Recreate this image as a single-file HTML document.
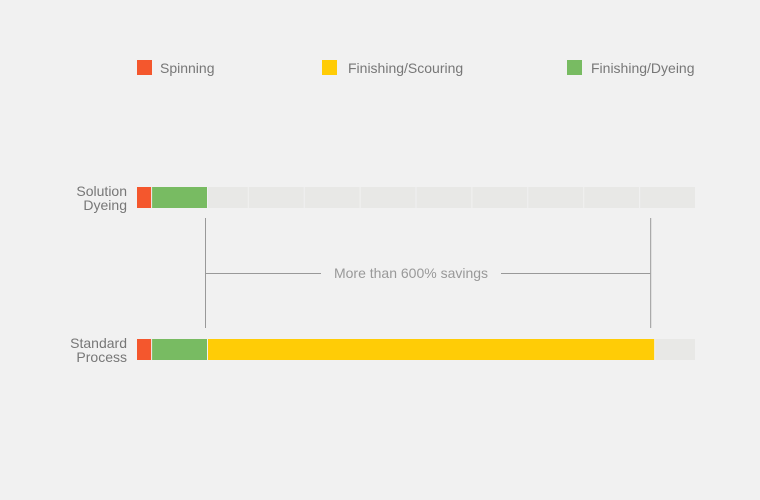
<!DOCTYPE html>
<html><head><meta charset="utf-8"><style>
body{margin:0;background:#f1f1f1;font-family:"Liberation Sans",sans-serif;}
svg{display:block}
text{font-family:"Liberation Sans",sans-serif;}
</style></head><body>
<svg id="chart" width="760" height="500">
<rect width="760" height="500" fill="#f1f1f1"/>
</svg>
<script>
const categories=["Solution Dyeing","Standard Process"];
const seriesNames=["Spinning","Finishing/Scouring","Finishing/Dyeing"];
const spinning=[0.27,0.27];
const dyeing=[1.0,1.0];
const scouring=[0,8.0];
const maxVal=10;
const annotation="More than 600% savings";
const colors={"Spinning":"#f4572d","Finishing/Scouring":"#ffcc06","Finishing/Dyeing":"#78bb62"};
const svg=document.getElementById('chart');
const NS="http://www.w3.org/2000/svg";
const x0=137,x1=696;
const xs=v=>x0+v/maxVal*(x1-x0);
const rowY=[187,339],bh=21;
function mk(t,a,p){const e=document.createElementNS(NS,t);for(const k in a)e.setAttribute(k,a[k]);(p||svg).appendChild(e);return e;}
// legend
const legX=[137,322,567];
seriesNames.forEach((n,i)=>{
  const g=mk('g',{});
  
  
  mk('rect',{x:legX[i],y:60,width:15,height:15,fill:colors[n]},g);
  const t=mk('text',{x:legX[i]+(i==0?23:i==1?26:24),y:73,'font-size':14,fill:'#777'},g);t.textContent=n;
});
categories.forEach((c,i)=>{
  const y=rowY[i];
  const g=mk('g',{});
  
  
  const parts=c.split(' ');
  parts.forEach((p,j)=>{const t=mk('text',{x:127,y:y+9+j*14,'font-size':14,fill:'#777','text-anchor':'end'},g);t.textContent=p;});
  let acc=0;
  const segs=[["Spinning",spinning[i]],["Finishing/Dyeing",dyeing[i]],["Finishing/Scouring",scouring[i]]];
  segs.forEach(([n,v])=>{
    if(v<=0)return;
    const a=xs(acc),b=xs(acc+v);
    const r=mk('rect',{x:a,y:y,width:Math.max(0,b-a-1),height:bh,fill:colors[n]},g);
    
    
    acc+=v;
  });
  // background cells
  let s=xs(acc);
  let cell=Math.ceil((s-x0)/((x1-x0)/10)+0.001);
  if(cell<1)cell=1;
  let cs=s;
  for(let k=Math.max(cell,1);k<=10;k++){
    const ce=xs(k);
    if(ce-cs>2){mk('rect',{x:cs,y:y,width:ce-cs-1,height:bh,fill:'#e8e8e6'},g);}
    cs=ce;
  }
});
// annotation bracket
const ax=xs(dyeing[0]+spinning[0])-3, bx=xs(scouring[1]+dyeing[1]+spinning[1])-5;
const ag=mk('g',{stroke:'#999','stroke-width':1});


mk('line',{x1:ax+.5,y1:218,x2:ax+.5,y2:328},ag);
mk('line',{x1:bx+.5,y1:218,x2:bx+.5,y2:328},ag);
mk('line',{x1:ax,y1:273.5,x2:321,y2:273.5},ag);
mk('line',{x1:501,y1:273.5,x2:bx,y2:273.5},ag);
const at=mk('text',{x:411,y:278,'font-size':14,fill:'#999','text-anchor':'middle'});


at.textContent=annotation;
</script>
</body></html>
